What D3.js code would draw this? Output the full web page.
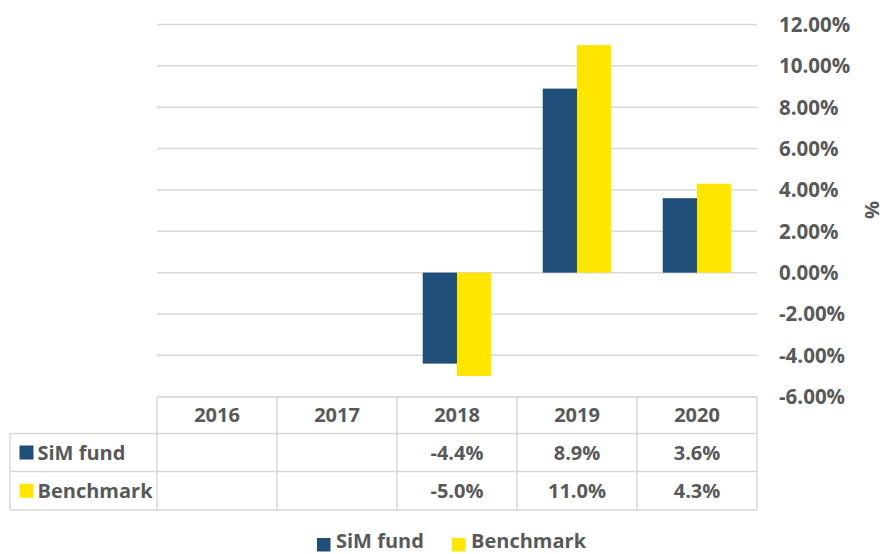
<!DOCTYPE html>
<html>
<head>
<meta charset="utf-8">
<script src="https://cdn.jsdelivr.net/npm/d3@7"></script>
<style>
  body { margin: 0; background: #fff; }
  svg { display: block; font-family: "Open Sans", sans-serif; font-weight: bold; }
</style>
</head>
<body>
<svg width="886" height="554"></svg>
<script>
// chart data
var years = ["2016", "2017", "2018", "2019", "2020"];
var simFund = [null, null, -4.4, 8.9, 3.6];
var benchmark = [null, null, -5.0, 11.0, 4.3];
var seriesNames = ["SiM fund", "Benchmark"];
var yTicks = [-6, -4, -2, 0, 2, 4, 6, 8, 10, 12];

function main() {
  var svg = d3.select("svg"),
      textColor = "#595959",
      gridColor = "#d9d9d9",
      colors = ["#1f4e79", "#ffe600"],
      plotLeft = 157, plotRight = 757,
      rowH = [397, 433.5, 471.5, 510];

  var series = [simFund, benchmark];

  var x = d3.scaleBand()
      .domain(years)
      .range([plotLeft, plotRight]);

  var xSub = d3.scaleBand()
      .domain(seriesNames)
      .range([0, x.bandwidth()])
      .paddingOuter(0.75);

  var y = d3.scaleLinear()
      .domain([-6, 12])
      .range([396.7, 24.5]);

  // gridlines
  svg.append("g")
    .selectAll("line")
    .data(yTicks)
    .enter().append("line")
      .attr("x1", plotLeft)
      .attr("x2", plotRight)
      .attr("y1", function(d) { return y(d); })
      .attr("y2", function(d) { return y(d); })
      .attr("stroke", gridColor)
      .attr("stroke-width", 1.5);

  // bars
  var barData = [];
  series.forEach(function(s, si) {
    s.forEach(function(v, i) {
      if (v !== null) barData.push({year: years[i], name: seriesNames[si], value: v, si: si});
    });
  });

  svg.append("g")
    .selectAll("rect")
    .data(barData)
    .enter().append("rect")
      .attr("x", function(d) { return x(d.year) + xSub(d.name); })
      .attr("y", function(d) { return y(Math.max(0, d.value)); })
      .attr("width", xSub.bandwidth())
      .attr("height", function(d) { return Math.abs(y(d.value) - y(0)); })
      .attr("fill", function(d) { return colors[d.si]; });

  // right axis labels
  svg.append("g")
    .selectAll("text")
    .data(yTicks)
    .enter().append("text")
      .attr("x", 779)
      .attr("y", function(d) { return y(d); })
      .attr("dy", "0.36em")
      .attr("font-size", 20.5)
      .attr("fill", textColor)
      .text(function(d) { return d.toFixed(2) + "%"; });

  svg.append("text")
      .attr("transform", "translate(872,210) rotate(90)")
      .attr("text-anchor", "middle")
      .attr("dy", "0.36em")
      .attr("font-size", 20)
      .attr("fill", textColor)
      .text("%");

  // data table
  var table = svg.append("g")
      .attr("stroke", gridColor)
      .attr("stroke-width", 1.5);

  table.append("line")
      .attr("x1", plotLeft).attr("x2", plotRight)
      .attr("y1", rowH[0]).attr("y2", rowH[0]);
  rowH.slice(1).forEach(function(h) {
    table.append("line")
        .attr("x1", 10).attr("x2", plotRight)
        .attr("y1", h).attr("y2", h);
  });
  table.append("line")
      .attr("x1", 10).attr("x2", 10)
      .attr("y1", rowH[1]).attr("y2", rowH[3]);
  years.concat(["end"]).forEach(function(yr, i) {
    var xx = i < years.length ? x(yr) : plotRight;
    table.append("line")
        .attr("x1", xx).attr("x2", xx)
        .attr("y1", rowH[0]).attr("y2", rowH[3]);
  });

  svg.append("g")
    .selectAll("text")
    .data(years)
    .enter().append("text")
      .attr("x", function(d) { return x(d) + x.bandwidth() / 2; })
      .attr("y", (rowH[0] + rowH[1]) / 2)
      .attr("dy", "0.36em")
      .attr("text-anchor", "middle")
      .attr("font-size", 20)
      .attr("fill", textColor)
      .text(function(d) { return d; });

  series.forEach(function(s, si) {
    var cy = (rowH[si + 1] + rowH[si + 2]) / 2;
    svg.append("rect")
        .attr("x", 19.5).attr("y", cy - 7)
        .attr("width", 14).attr("height", 14)
        .attr("fill", colors[si]);
    svg.append("text")
        .attr("x", 37.5).attr("y", cy)
        .attr("dy", "0.36em")
        .attr("font-size", 20)
        .attr("fill", textColor)
        .text(seriesNames[si]);
    svg.append("g")
      .selectAll("text")
      .data(s)
      .enter().append("text")
        .attr("x", function(d, i) { return x(years[i]) + x.bandwidth() / 2; })
        .attr("y", cy)
        .attr("dy", "0.36em")
        .attr("text-anchor", "middle")
        .attr("font-size", 20)
        .attr("fill", textColor)
        .text(function(d) { return d === null ? "" : d.toFixed(1) + "%"; });
  });

  // legend
  var legendX = [317, 452];
  seriesNames.forEach(function(name, i) {
    svg.append("rect")
        .attr("x", legendX[i]).attr("y", 538)
        .attr("width", 13.5).attr("height", 13.5)
        .attr("fill", colors[i]);
    svg.append("text")
        .attr("x", legendX[i] + 19).attr("y", 541)
        .attr("dy", "0.36em")
        .attr("font-size", 20)
        .attr("fill", textColor)
        .text(name);
  });
}
main();
</script>
</body>
</html>
